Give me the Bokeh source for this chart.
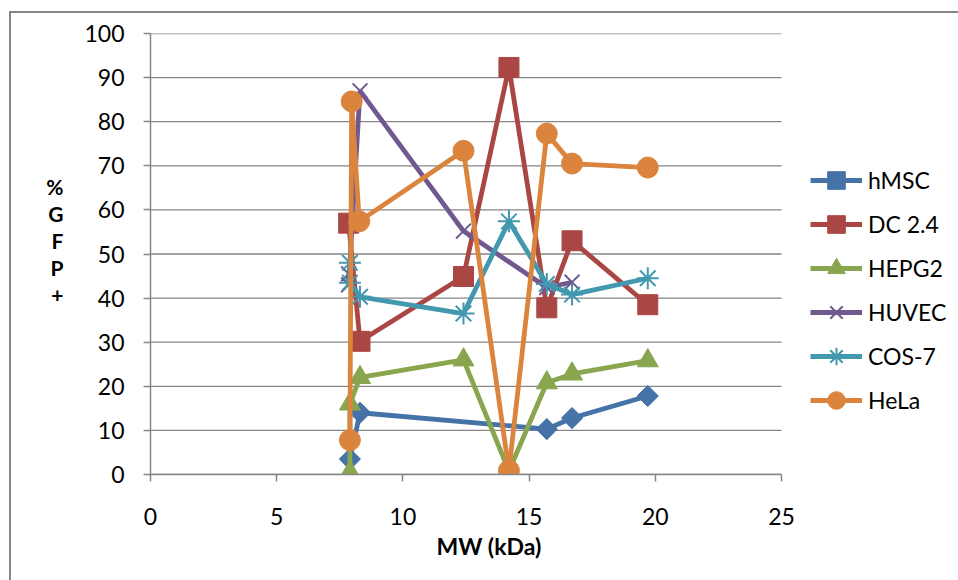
from bokeh.plotting import figure
from bokeh.models import Range1d, Legend, LegendItem, Title, InlineStyleSheet
from bokeh.embed import file_html
from bokeh.resources import INLINE

# ---- data ----
series_names = ["hMSC", "DC 2.4", "HEPG2", "HUVEC", "COS-7", "HeLa"]

hmsc_x = [7.9, 8.3, 15.7, 16.7, 19.7]
hmsc_y = [3.5, 14.0, 10.3, 12.8, 17.8]

dc_x = [7.85, 8.3, 12.4, 14.2, 15.7, 16.7, 19.7]
dc_y = [57.0, 30.2, 44.9, 92.3, 37.8, 53.0, 38.5]

hepg2_x = [7.9, 7.9, 8.3, 12.4, 14.2, 15.7, 16.7, 19.7]
hepg2_y = [0.5, 16.0, 22.0, 26.0, 0.8, 20.8, 22.8, 25.8]

huvec_x = [7.85, 7.85, 8.3, 12.4, 15.7, 16.7]
huvec_y = [45.5, 43.0, 87.0, 55.2, 42.4, 43.6]

cos7_x = [7.9, 7.9, 8.3, 12.4, 14.2, 15.7, 16.7, 19.7]
cos7_y = [48.0, 43.5, 40.3, 36.5, 57.4, 43.2, 40.8, 44.5]

hela_x = [7.9, 7.97, 8.27, 12.4, 14.2, 15.7, 16.7, 19.7]
hela_y = [7.8, 84.6, 57.4, 73.4, 0.9, 77.3, 70.5, 69.6]

x_ticks = [0, 5, 10, 15, 20, 25]
y_ticks = [0, 10, 20, 30, 40, 50, 60, 70, 80, 90, 100]
x_min, x_max = 0, 25

# ---- styles ----
colors = ["#4572A7", "#AA4643", "#89A54E", "#71588F", "#4198AF", "#DB843D"]
markers = ["square", "square", "triangle", "x", "asterisk", "circle"]
angles = [0.785398, 0, 0, 0, 0, 0]
msizes = [15, 20, 21, 21, 22, 21]
FONT = "Lato"
GRAY = "#868686"

# the frame is widened to the right so that the legend (outside the 0-25 axis
# span) is not clipped; axis line and grid lines are bounded to 0-25
p = figure(width=958, height=580, output_backend="svg", toolbar_location=None,
           x_range=Range1d(0, 32.01), y_range=Range1d(0, 100),
           min_border_left=150, min_border_right=0, min_border_top=33,
           min_border_bottom=106)
p.outline_line_color = None
p.background_fill_color = "white"
p.border_fill_color = "white"

p.xgrid.visible = False
p.ygrid.visible = False
p.segment(x0=[x_min] * len(y_ticks), x1=[x_max] * len(y_ticks),
          y0=y_ticks, y1=y_ticks, line_color=GRAY, line_width=1.3)

p.xaxis.ticker = x_ticks
p.xaxis.bounds = (x_min, x_max)
p.yaxis.ticker = y_ticks
for ax in (p.xaxis, p.yaxis):
    ax.axis_line_color = GRAY
    ax.axis_line_width = 1.5
    ax.major_tick_line_color = GRAY
    ax.major_tick_line_width = 1.5
    ax.major_tick_in = 0
    ax.major_tick_out = 7
    ax.minor_tick_line_color = None
    ax.major_label_text_font = FONT
    ax.major_label_text_font_size = "23px"
    ax.major_label_text_color = "black"
p.yaxis.major_label_standoff = 19
p.xaxis.major_label_standoff = 26

# stacked y-axis title
p.yaxis.axis_label = "%\nG\nF\nP\n+\n"
p.yaxis.axis_label_orientation = "horizontal"
p.yaxis.axis_label_text_font = FONT
p.yaxis.axis_label_text_font_style = "bold"
p.yaxis.axis_label_text_font_size = "21px"
p.yaxis.axis_label_text_line_height = 1.08
p.yaxis.axis_label_standoff = 18
p.yaxis.axis_label_text_color = "black"

# x-axis title (placed like the reference, right of centre)
p.add_layout(Title(text="MW (kDa)", align="left", offset=286, standoff=5,
                   text_font=FONT, text_font_style="bold",
                   text_font_size="23px", text_color="black"), "below")

data = [(hmsc_x, hmsc_y), (dc_x, dc_y), (hepg2_x, hepg2_y),
        (huvec_x, huvec_y), (cos7_x, cos7_y), (hela_x, hela_y)]

items = []
for name, (xs, ys), c, m, a, s in zip(series_names, data, colors, markers, angles, msizes):
    ln = p.line(xs, ys, line_color=c, line_width=4.8)
    if m in ("x", "asterisk"):
        sc = p.scatter(xs, ys, marker=m, size=s, line_color=c, line_width=2,
                       fill_color=c)
    else:
        sc = p.scatter(xs, ys, marker=m, size=s, angle=a, line_color=c,
                       fill_color=c)
    items.append(LegendItem(label=name, renderers=[ln, sc]))

legend = Legend(items=items, location=(660, 52), orientation="vertical",
                glyph_width=52, glyph_height=44, label_height=44, spacing=0,
                padding=0, margin=0, border_line_color=None,
                background_fill_alpha=0, label_text_font=FONT,
                label_text_font_size="23px", label_standoff=6,
                label_text_color="black")
p.add_layout(legend)

# outer chart border (left and top edges visible in the reference)
p.stylesheets = [InlineStyleSheet(css="""
:host::after {
  content: "";
  position: absolute;
  left: 9px; top: 11px; right: 0; bottom: 0;
  border-left: 2px solid #868686;
  border-top: 2px solid #868686;
  pointer-events: none;
}
""")]

open("out.html", "w").write(file_html(p, INLINE))
